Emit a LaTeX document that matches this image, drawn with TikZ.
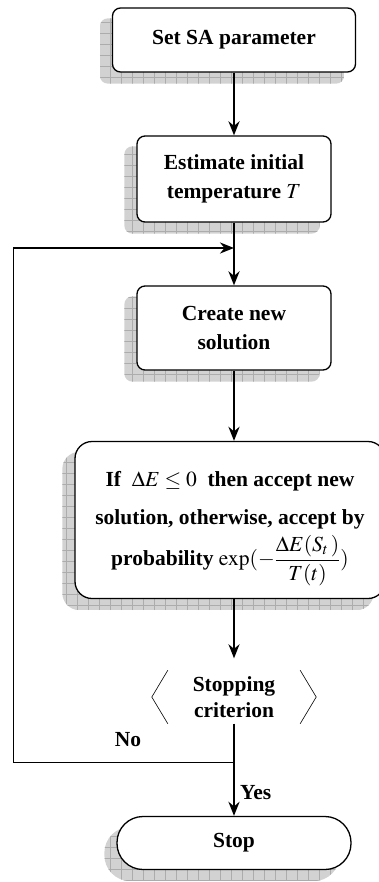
\documentclass[tikz,border=0pt]{standalone}
\usepackage{mathptmx}
\usepackage{amsmath}
\usepackage{fontspec}
\setmainfont{Liberation Serif}
\usetikzlibrary{positioning,arrows.meta,backgrounds}

\begin{document}
\begin{tikzpicture}[x=1pt,y=-1pt,
  box/.style={draw,line width=1.3pt,fill=white,rounded corners=8pt,align=center,
    font=\fontsize{21.5}{29}\selectfont\bfseries,inner sep=0pt},
  arr/.style={line width=2.7pt,-{Stealth[length=14pt,width=11pt]}},
  lbl/.style={font=\fontsize{21.5}{26}\selectfont\bfseries,inner sep=0pt}]
\useasboundingbox (0,0) rectangle (379,882);
\clip (0,0) rectangle (379,882);
% boxes
\node[box,minimum width=243pt,minimum height=64pt] (set) at (234,40) {Set SA parameter};
\node[box,minimum width=194pt,minimum height=86pt] (est) at (234,179) {Estimate initial\\temperature $T$};
\node[box,minimum width=194pt,minimum height=84pt] (new) at (234,328) {Create new\\solution};
\node[box,rounded corners=17pt,minimum width=310pt,minimum height=157pt,
  font=\fontsize{21.5}{38}\selectfont\bfseries] (acc) at (230,520)
  {\rule{0pt}{33pt}If\ \ $\Delta E \le 0$\ \ then accept new\\ solution, otherwise, accept by\\[3pt]
   probability $\exp(-\dfrac{\Delta E(S_t\,)}{T(t)})$};
\node[lbl,align=center,minimum width=132pt,minimum height=53pt] (crit) at (234,697) {Stopping\\criterion};
\node[box,rounded corners=26pt,minimum width=234pt,minimum height=53pt] (stop) at (234,843) {Stop};
% brackets
\draw[line width=0.6pt] (crit.north west) -- ([xshift=-16pt]crit.west) -- (crit.south west);
\draw[line width=0.6pt] (crit.north east) -- ([xshift=16pt]crit.east) -- (crit.south east);
% connectors
\coordinate (fb) at (234,248);
\coordinate (looptop) at (13,248);
\coordinate (loopbot) at (13,762);
\coordinate (nojoin) at (234,762);
\draw[arr] (set) -- (est);
\draw[arr] (est) -- (new);
\draw[arr] (new) -- (new |- acc.north);
\draw[arr] (crit |- acc.south) -- ([yshift=12pt]crit.north);
\draw[arr] (crit) -- (stop);
\draw[line width=1pt] (nojoin) -- (loopbot) -- (looptop);
\draw[line width=2.2pt,-{Stealth[length=14pt,width=11pt]}] (looptop) -- (fb);
\node[lbl] (nolbl) at (128,740) {No};
\node[lbl,anchor=west] (yeslbl) at (240,793) {Yes};
% shadows
\begin{scope}[on background layer]
\foreach \n/\r in {set/8,est/8,new/8,acc/17,stop/26}
{ \begin{scope}
  \clip[rounded corners=\r pt] ([shift={(-12,11)}]\n.north west) rectangle ([shift={(-12,11)}]\n.south east);
  \fill[gray!35] ([shift={(-12,11)}]\n.north west) rectangle ([shift={(-12,11)}]\n.south east);
  \draw[gray!65,line width=0.5pt,step=11pt] ([shift={(-12,11)}]\n.north west) grid ([shift={(-12,11)}]\n.south east);
  \end{scope}
}
\end{scope}
\end{tikzpicture}
\end{document}
